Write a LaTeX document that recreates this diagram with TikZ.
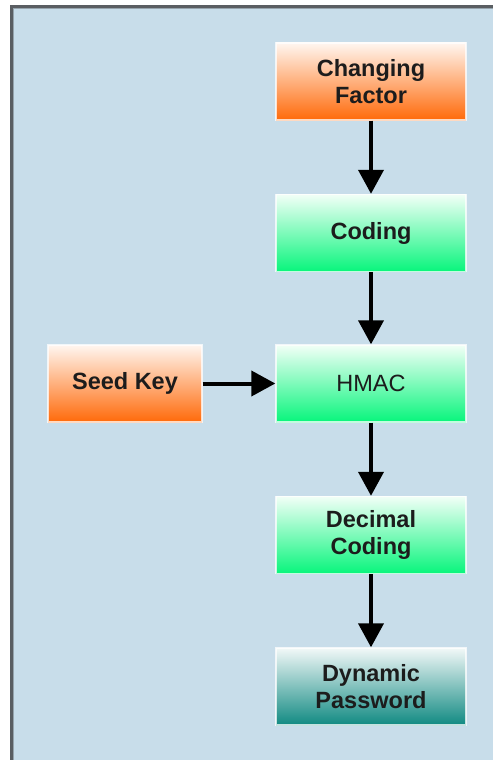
\documentclass[tikz,border=0pt]{standalone}
\usepackage{fontspec}
\setmainfont{Liberation Sans}
\usetikzlibrary{arrows.meta}

\definecolor{panelbg}{HTML}{C8DDEA}
\definecolor{frameline}{HTML}{5A5E62}
\definecolor{orangetop}{HTML}{FFF6F0}
\definecolor{orangebot}{HTML}{FF6A0A}
\definecolor{greentop}{HTML}{F2FFF7}
\definecolor{greenbot}{HTML}{08F57C}
\definecolor{tealtop}{HTML}{F2F8F8}
\definecolor{tealbot}{HTML}{118A82}
\definecolor{labeltext}{HTML}{1C1C1C}

\tikzset{
  x=1pt, y=-1pt,
  flowbox/.style={draw=white, draw opacity=0.75, line width=1.4pt,
    rectangle, minimum width=190pt, minimum height=77pt,
    align=center, text=labeltext, font=\fontsize{23.5}{27}\selectfont\bfseries,
    inner sep=0pt},
  orangebox/.style={flowbox, top color=orangetop, bottom color=orangebot},
  greenbox/.style={flowbox, top color=greentop, bottom color=greenbot},
  tealbox/.style={flowbox, top color=tealtop, bottom color=tealbot},
  flowarrow/.style={draw=black, line width=4pt,
    -{Triangle[length=24pt,width=25pt]}}
}

\begin{document}
\begin{tikzpicture}
  % canvas and panel
  \fill[white] (0,0) rectangle (493,760);
  \useasboundingbox (0,0) rectangle (493,760);
  \fill[panelbg] (10,5) rectangle (493,760);
  % panel frame (left and top edges)
  \draw[frameline, line width=3pt] (11.5,760) -- (11.5,6.5) -- (493,6.5);
  \draw[frameline!45!panelbg, line width=1pt] (13.5,760) -- (13.5,8.5) -- (493,8.5);

  % boxes
  \node[orangebox] (cf) at (371,81.5) {Changing\\Factor};
  \node[greenbox] (cod) at (371,233) {Coding};
  \node[greenbox, font=\fontsize{23.5}{27}\selectfont] (hmac) at (371,383.5) {HMAC};
  \node[orangebox, minimum width=154pt] (seed) at (125,383.5) {Seed Key};
  \node[greenbox] (dec) at (371,535) {Decimal\\Coding};
  \node[tealbox] (dyn) at (371,686.5) {Dynamic\\Password};

  % connectors
  \draw[flowarrow] (cf) -- (cod);
  \draw[flowarrow] (cod) -- (hmac);
  \draw[flowarrow] (seed) -- (hmac);
  \draw[flowarrow] (hmac) -- (dec);
  \draw[flowarrow] (dec) -- (dyn);
\end{tikzpicture}
\end{document}
